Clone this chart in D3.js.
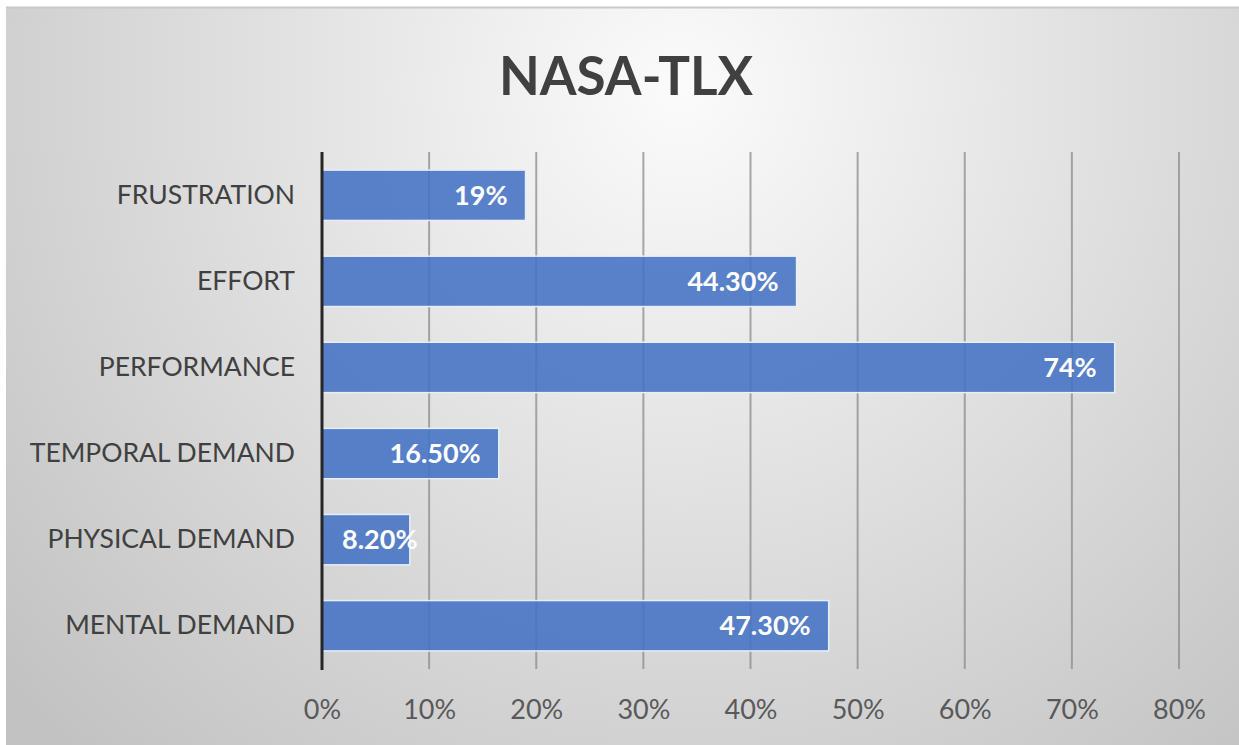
<!DOCTYPE html>
<html>
<head>
<meta charset="utf-8">
<script src="https://cdn.jsdelivr.net/npm/d3@7"></script>
<style>
  html, body { margin: 0; padding: 0; background: #fff; }
  svg { display: block; }
</style>
</head>
<body>
<svg id="chart" width="1239" height="745"></svg>
<script>
// chart values
const categories = ['MENTAL DEMAND', 'PHYSICAL DEMAND', 'TEMPORAL DEMAND', 'PERFORMANCE', 'EFFORT', 'FRUSTRATION'];
const values = [0.473, 0.082, 0.165, 0.74, 0.443, 0.19];
const labels = ['47.30%', '8.20%', '16.50%', '74%', '44.30%', '19%'];
const ticks = [0, 0.1, 0.2, 0.3, 0.4, 0.5, 0.6, 0.7, 0.8];
const title = 'NASA-TLX';

const svg = d3.select('#chart');
const W = 1239, H = 745;
const margin = { top: 152, right: 60, bottom: 76, left: 322 };

// background panel with radial gradient
const defs = svg.append('defs');
const grad = defs.append('radialGradient')
    .attr('id', 'bg')
    .attr('gradientUnits', 'userSpaceOnUse')
    .attr('cx', 680).attr('cy', 90).attr('r', 900);
grad.append('stop').attr('offset', '0%').attr('stop-color', '#fbfbfb');
grad.append('stop').attr('offset', '100%').attr('stop-color', '#c2c2c2');

svg.append('rect')
    .attr('x', 6).attr('y', 7)
    .attr('width', W - 6).attr('height', H - 7)
    .attr('fill', 'url(#bg)');
svg.append('line')
    .attr('x1', 6).attr('x2', W).attr('y1', 7.5).attr('y2', 7.5)
    .attr('stroke', '#c8c8c8').attr('stroke-width', 2);

// scales
const x = d3.scaleLinear().domain([0, 0.8]).range([margin.left, 1179]);
const y = d3.scaleBand()
    .domain(categories.slice().reverse())
    .range([margin.top, H - margin.bottom])
    .paddingInner(0.415)
    .paddingOuter(0.21);

// title
svg.append('text')
    .attr('x', 626).attr('y', 95)
    .attr('text-anchor', 'middle')
    .attr('font-family', 'Lato, sans-serif')
    .attr('font-weight', 'bold')
    .attr('font-size', 53)
    .attr('fill', '#404040')
    .text(title);

// vertical gridlines
svg.append('g')
    .selectAll('line')
    .data(ticks.slice(1))
    .join('line')
    .attr('x1', d => x(d)).attr('x2', d => x(d))
    .attr('y1', margin.top).attr('y2', 669)
    .attr('stroke', '#8c8c8c')
    .attr('stroke-width', 2)
    .attr('opacity', 0.75);

// bars
svg.append('g')
    .selectAll('rect')
    .data(categories)
    .join('rect')
    .attr('x', x(0))
    .attr('y', d => y(d))
    .attr('width', (d, i) => x(values[i]) - x(0))
    .attr('height', y.bandwidth())
    .attr('fill', '#4472c4')
    .attr('fill-opacity', 0.88)
    .attr('stroke', '#e6eefa')
    .attr('stroke-width', 1.5);

// data labels, inside end
const lab = svg.append('g')
    .selectAll('text')
    .data(categories)
    .join('text')
    .attr('y', d => y(d) + y.bandwidth() / 2)
    .attr('dy', '0.36em')
    .attr('text-anchor', 'end')
    .attr('font-family', 'Lato, sans-serif')
    .attr('font-weight', 'bold')
    .attr('font-size', 27)
    .attr('fill', '#ffffff')
    .text((d, i) => labels[i]);
lab.each(function (d, i) {
    const w = this.getComputedTextLength();
    const end = Math.max(x(values[i]) - 18, x(0) + 20 + w);
    d3.select(this).attr('x', end);
});

// category axis
const yAxis = svg.append('g')
    .attr('transform', `translate(${x(0)},0)`)
    .call(d3.axisLeft(y).tickSize(0).tickPadding(27));
yAxis.select('.domain').remove();
yAxis.selectAll('text')
    .attr('font-family', 'Lato, sans-serif')
    .attr('font-size', 26.5)
    .attr('fill', '#404040');

// value axis
const xAxis = svg.append('g')
    .attr('transform', `translate(0,${669})`)
    .call(d3.axisBottom(x).tickValues(ticks).tickFormat(d3.format('.0%')).tickSize(0).tickPadding(31));
xAxis.select('.domain').remove();
xAxis.selectAll('text')
    .attr('font-family', 'Lato, sans-serif')
    .attr('font-size', 27)
    .attr('fill', '#595959');

// zero line
svg.append('line')
    .attr('x1', x(0)).attr('x2', x(0))
    .attr('y1', margin.top).attr('y2', 670)
    .attr('stroke', '#262626')
    .attr('stroke-width', 3);
</script>
</body>
</html>
